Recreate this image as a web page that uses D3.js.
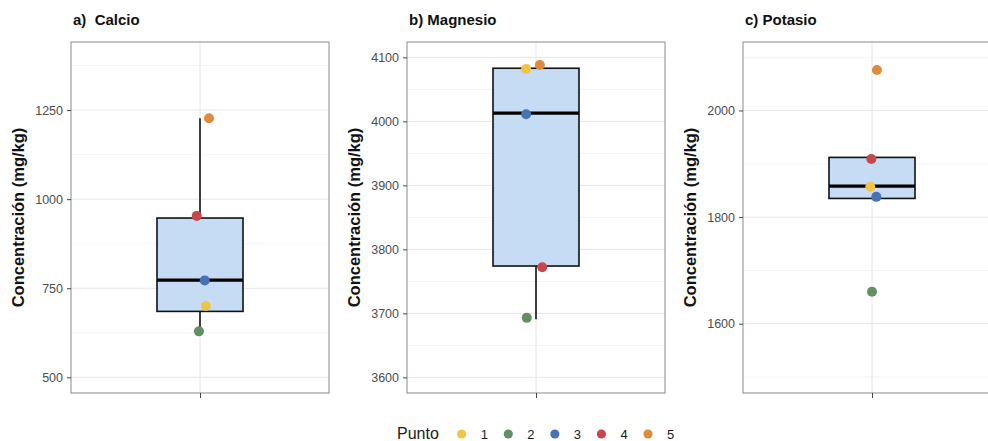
<!DOCTYPE html>
<html>
<head>
<meta charset="utf-8">
<script src="https://cdn.jsdelivr.net/npm/d3@7"></script>
<style>
  html, body { margin: 0; padding: 0; background: #fff; }
  svg { display: block; font-family: "Liberation Sans", Arial, Helvetica, sans-serif; }
</style>
</head>
<body>
<svg id="chart" width="988" height="441"></svg>
<script>
// Mineral concentration per sampling point (Punto 1..5)
const puntos = ["1", "2", "3", "4", "5"];
const puntoColors = ["#f0c445", "#628f63", "#4772b3", "#c8474c", "#df8b3d"];

const panelTitles = ["a)  Calcio", "b) Magnesio", "c) Potasio"];
const yLabel = "Concentración (mg/kg)";

// Point values, ordered by Punto 1..5
const calcio   = [700, 629, 772, 953, 1227];
const magnesio = [4082, 3693, 4011, 3772, 4088];
const potasio  = [1857, 1660, 1838, 1909, 2076];

// Horizontal jitter of each point (in category units)
const jitterCalcio   = [0.027, -0.005, 0.022, -0.015, 0.042];
const jitterMagnesio = [-0.046, -0.043, -0.046, 0.029, 0.018];
const jitterPotasio  = [-0.008, 0.000, 0.020, -0.003, 0.023];

// Boxplot statistics: [lower whisker, Q1, median, Q3, upper whisker]
const boxCalcio   = [630, 685, 773, 947, 1227];
const boxMagnesio = [3691, 3774, 4013, 4083, 4083];
const boxPotasio  = [1835, 1835, 1858, 1912, 1912];

// Axis ticks
const ticksCalcio   = [500, 750, 1000, 1250];
const ticksMagnesio = [3600, 3700, 3800, 3900, 4000, 4100];
const ticksPotasio  = [1600, 1800, 2000];
const minorCalcio   = [625, 875, 1125, 1375];
const minorMagnesio = [3650, 3750, 3850, 3950, 4050];
const minorPotasio  = [1500, 1700, 1900, 2100];

// Visible y ranges
const domCalcio   = [456, 1441];
const domMagnesio = [3575.6, 4124];
const domPotasio  = [1470, 2128.5];

const panels = [
  { title: panelTitles[0], values: calcio,   jitter: jitterCalcio,   box: boxCalcio,   ticks: ticksCalcio,   minor: minorCalcio,   domain: domCalcio,   x0: 71 },
  { title: panelTitles[1], values: magnesio, jitter: jitterMagnesio, box: boxMagnesio, ticks: ticksMagnesio, minor: minorMagnesio, domain: domMagnesio, x0: 407 },
  { title: panelTitles[2], values: potasio,  jitter: jitterPotasio,  box: boxPotasio,  ticks: ticksPotasio,  minor: minorPotasio,  domain: domPotasio,  x0: 743 }
];

const panelW = 258, panelTop = 42, panelBottom = 393;
const boxWidth = 0.4;
const svg = d3.select("#chart");
const color = d3.scaleOrdinal().domain(puntos).range(puntoColors);

panels.forEach(p => {
  const x = d3.scaleLinear().domain([0.4, 1.6]).range([p.x0, p.x0 + panelW]);
  const y = d3.scaleLinear().domain(p.domain).range([panelBottom, panelTop]);
  const g = svg.append("g");

  // grid
  g.selectAll("line.minor").data(p.minor).join("line")
    .attr("x1", p.x0).attr("x2", p.x0 + panelW)
    .attr("y1", d => y(d)).attr("y2", d => y(d))
    .attr("stroke", "#f1f1f1").attr("stroke-width", 0.8);
  g.selectAll("line.major").data(p.ticks).join("line")
    .attr("x1", p.x0).attr("x2", p.x0 + panelW)
    .attr("y1", d => y(d)).attr("y2", d => y(d))
    .attr("stroke", "#e6e6e6").attr("stroke-width", 1);
  g.append("line")
    .attr("x1", x(1)).attr("x2", x(1)).attr("y1", panelTop).attr("y2", panelBottom)
    .attr("stroke", "#e6e6e6").attr("stroke-width", 1);

  // box
  const [lo, q1, med, q3, hi] = p.box;
  g.append("line")
    .attr("x1", x(1)).attr("x2", x(1)).attr("y1", y(q3)).attr("y2", y(hi))
    .attr("stroke", "#111").attr("stroke-width", 1.6);
  g.append("line")
    .attr("x1", x(1)).attr("x2", x(1)).attr("y1", y(q1)).attr("y2", y(lo))
    .attr("stroke", "#111").attr("stroke-width", 1.6);
  g.append("rect")
    .attr("x", x(1 - boxWidth / 2)).attr("width", x(1 + boxWidth / 2) - x(1 - boxWidth / 2))
    .attr("y", y(q3)).attr("height", y(q1) - y(q3))
    .attr("fill", "#c6dcf4").attr("stroke", "#111").attr("stroke-width", 1.6);
  g.append("line")
    .attr("x1", x(1 - boxWidth / 2)).attr("x2", x(1 + boxWidth / 2))
    .attr("y1", y(med)).attr("y2", y(med))
    .attr("stroke", "#000").attr("stroke-width", 3.2);

  // points
  g.selectAll("circle.pt").data(p.values).join("circle")
    .attr("cx", (d, i) => x(1 + p.jitter[i]))
    .attr("cy", d => y(d))
    .attr("r", 5)
    .attr("fill", (d, i) => color(puntos[i]));

  // panel border
  g.append("rect")
    .attr("x", p.x0).attr("y", panelTop).attr("width", panelW).attr("height", panelBottom - panelTop)
    .attr("fill", "none").attr("stroke", "#8a8a8a").attr("stroke-width", 1);

  // y axis
  const yAxis = d3.axisLeft(y).tickValues(p.ticks).tickSize(4).tickPadding(4).tickFormat(d3.format("d"));
  const ya = g.append("g").attr("transform", `translate(${p.x0},0)`).call(yAxis);
  ya.select(".domain").remove();
  ya.selectAll(".tick line").attr("stroke", "#444");
  ya.selectAll(".tick text").attr("fill", "#4d4d4d").style("font-size", "12.5px");

  // x axis (single unlabelled category)
  const xAxis = d3.axisBottom(x).tickValues([1]).tickSize(5).tickFormat("");
  const xa = g.append("g").attr("transform", `translate(0,${panelBottom})`).call(xAxis);
  xa.select(".domain").remove();
  xa.selectAll(".tick line").attr("stroke", "#444");

  // titles
  g.append("text")
    .attr("x", p.x0 + 2).attr("y", 25)
    .style("white-space", "pre")
    .attr("font-weight", "bold").attr("font-size", "15px").attr("fill", "#111")
    .text(p.title);
  g.append("text")
    .attr("transform", `translate(${p.x0 - 47},${(panelTop + panelBottom) / 2}) rotate(-90)`)
    .attr("text-anchor", "middle")
    .attr("font-weight", "bold").attr("font-size", "16.5px").attr("fill", "#111")
    .text(yLabel);
});

// legend
const legend = svg.append("g");
legend.append("text").attr("x", 397).attr("y", 439)
  .attr("font-size", "16px").attr("fill", "#1a1a1a").text("Punto");
const lx = d3.scalePoint().domain(puntos).range([461.7, 648]);
const items = legend.selectAll("g.item").data(puntos).join("g");
items.append("circle").attr("cx", d => lx(d)).attr("cy", 434).attr("r", 4.6).attr("fill", d => color(d));
items.append("text").attr("x", d => lx(d) + 19).attr("y", 438.5)
  .attr("font-size", "13px").attr("fill", "#1a1a1a").text(d => d);
</script>
</body>
</html>
